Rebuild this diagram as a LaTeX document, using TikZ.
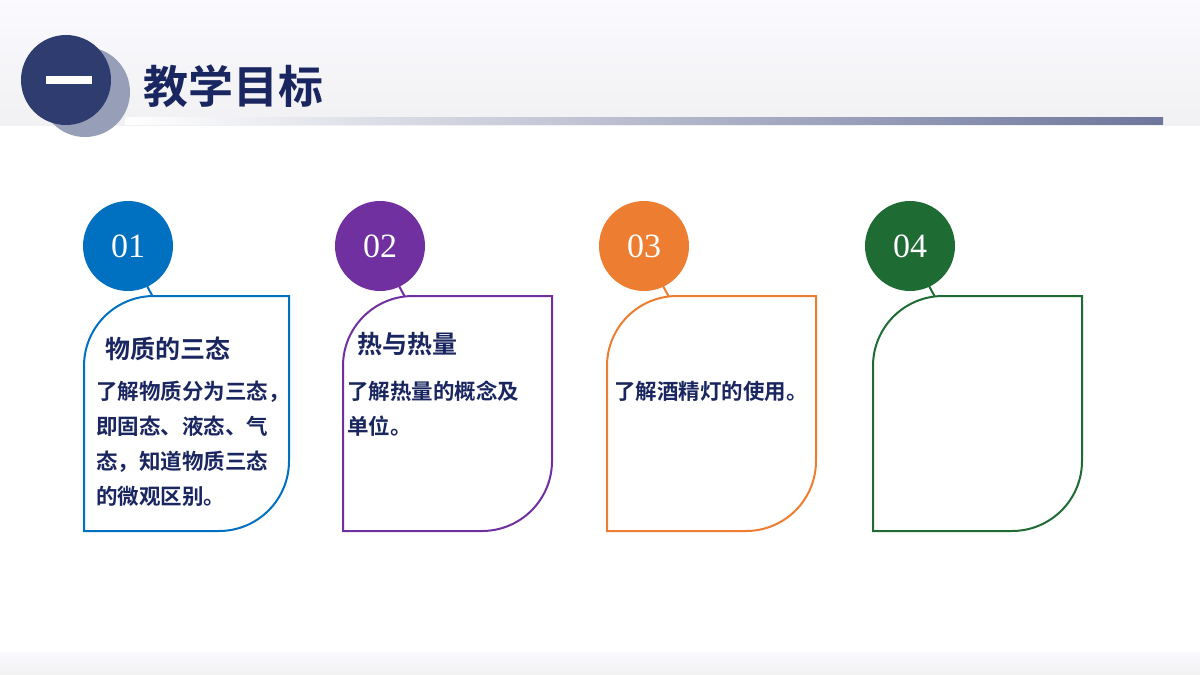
\documentclass[tikz,border=0pt]{standalone}
\usepackage{fontspec}
\newfontfamily\cjk{Noto Sans CJK SC}[BoldFont={* Bold}]
\setmainfont{Liberation Serif}
\begin{document}
\begin{tikzpicture}[x=1pt,y=-1pt,
  card/.style={line width=2pt,draw=#1,fill=white,rounded corners=0pt},
  num/.style={circle,fill=#1,minimum size=90pt,inner sep=0pt,text=white,font=\fontsize{34}{34}\selectfont},
  body/.style={anchor=north west,align=left,text=navy,font=\cjk\bfseries\fontsize{21.5}{35}\selectfont,inner sep=0pt},
  head/.style={anchor=west,text=navy,font=\cjk\bfseries\fontsize{25}{25}\selectfont,inner sep=0pt}]
\definecolor{navy}{HTML}{1A2660}
\definecolor{hdr}{HTML}{2F3C70}
\definecolor{c1}{HTML}{0070C0}
\definecolor{c2}{HTML}{7030A0}
\definecolor{c3}{HTML}{ED7D31}
\definecolor{c4}{HTML}{1E6B34}
\useasboundingbox (0,0) rectangle (1200,675);
\fill[white] (0,0) rectangle (1200,675);
\shade[top color=blue!2,bottom color=blue!7!gray!10] (0,0) rectangle (1200,125);
\shade[top color=blue!2,bottom color=blue!5!gray!10] (0,652) rectangle (1200,675);
\shade[left color=white,right color=hdr!70] (125,117) rectangle (1163,124);
\fill[hdr!50] (85,92) circle (45);
\node[circle,fill=hdr,minimum size=90pt,inner sep=0pt] (hc) at (66,80) {};
\fill[white] (46,76) rectangle (92,84);
\node[anchor=west,text=navy,font=\cjk\bfseries\fontsize{45}{45}\selectfont,inner sep=0pt] (title) at (143,86) {教学目标};
\foreach \i/\cx/\w/\nx/\c/\t in {1/84/205/128/c1/01,2/343/209/380/c2/02,3/607/209/644/c3/03,4/873/209/910/c4/04}{
  \draw[\c,line width=2pt] (\nx+19,286) -- (\nx+25,297);
  \draw[card=\c] (\cx+70,296) -- (\cx+\w,296) -- (\cx+\w,461) arc[start angle=0,end angle=90,radius=70] -- (\cx,531) -- (\cx,366) arc[start angle=180,end angle=270,radius=70] -- cycle;
  \node[num=\c] (n\i) at (\nx,246) {\t};
}
\node[head] (h1) at (105,349) {物质的三态};
\node[body] (b1) at (96,381) {了解物质分为三态，\\即固态、液态、气\\态，知道物质三态\\的微观区别。};
\node[head] (h2) at (357,344) {热与热量};
\node[body] (b2) at (347,381) {了解热量的概念及\\单位。};
\node[body] (b3) at (614,381) {了解酒精灯的使用。};
\end{tikzpicture}
\end{document}
